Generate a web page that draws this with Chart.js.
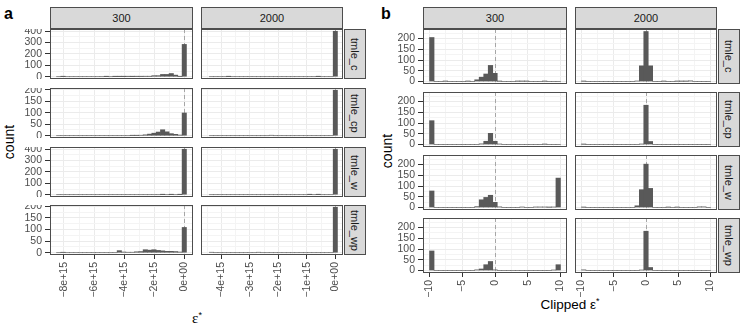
<!DOCTYPE html>
<html>
<head>
<meta charset="utf-8">
<script src="https://cdn.jsdelivr.net/npm/chart.js@4.4.1/dist/chart.umd.min.js"></script>
<style>
  body { margin: 0; background: #fff; }
  #fig { position: relative; width: 747px; height: 327px; overflow: hidden; font-family: "Liberation Sans", Arial, sans-serif; }
  #fig canvas { position: absolute; }
  .strip { position: absolute; box-sizing: border-box; background: #D9D9D9; border: 1px solid #4D4D4D; color: #1A1A1A; font-size: 11px; display: flex; align-items: center; justify-content: center; }
  .strip.v span { writing-mode: vertical-rl; }
  .tag { position: absolute; font-weight: bold; font-size: 16px; line-height: 16px; }
  .ytitle { position: absolute; width: 60px; height: 16px; line-height: 16px; text-align: center; font-size: 14px; transform: rotate(-90deg); }
  .xtitle { position: absolute; width: 160px; text-align: center; font-size: 13.5px; line-height: 16px; }
  .serif { font-family: "Liberation Serif", "DejaVu Serif", serif; font-size: 15px; }
  sup { font-size: 9px; vertical-align: 5px; }
</style>
</head>
<body>
<div id="fig">
  <div class="tag" style="left:4px;top:6px;">a</div>
  <div class="tag" style="left:381px;top:6px;">b</div>
  <div class="ytitle" style="left:-21px;top:134px;">count</div>
  <div class="ytitle" style="left:357px;top:143px;">count</div>
  <div class="xtitle" style="left:117px;top:307px;"><span class="serif">ε</span><sup>*</sup></div>
  <div class="xtitle" style="left:490px;top:293px;">Clipped ε<sup>*</sup></div>
</div>
<script>
// ---- bin centres (x values of the histogram bars) ----
// panel a, n = 300 column (units of 1e15)
const aCenters300 = [-8.352, -8.064, -7.776, -7.488, -7.2, -6.912, -6.624, -6.336, -6.048, -5.76,
  -5.472, -5.184, -4.896, -4.608, -4.32, -4.032, -3.744, -3.456, -3.168, -2.88,
  -2.592, -2.304, -2.016, -1.728, -1.44, -1.152, -0.864, -0.576, -0.288, 0];
// panel a, n = 2000 column (units of 1e15)
const aCenters2000 = [-4.35, -4.2, -4.05, -3.9, -3.75, -3.6, -3.45, -3.3, -3.15, -3.0,
  -2.85, -2.7, -2.55, -2.4, -2.25, -2.1, -1.95, -1.8, -1.65, -1.5,
  -1.35, -1.2, -1.05, -0.9, -0.75, -0.6, -0.45, -0.3, -0.15, 0];
// panel b (clipped epsilon)
const bCenters = [-9.655, -8.966, -8.276, -7.586, -6.897, -6.207, -5.517, -4.828, -4.138, -3.448,
  -2.759, -2.069, -1.379, -0.69, 0, 0.69, 1.379, 2.069, 2.759, 3.448,
  4.138, 4.828, 5.517, 6.207, 6.897, 7.586, 8.276, 8.966, 9.655];

// ---- counts, panel a ----
const aTmleC300   = [0,1,0,0,0,0,0,0,0,0, 0,1,0,1,1,1,2,1,2,2, 3,3,9,9,20,20,28,14,2,283];
const aTmleCp300  = [0,0,0,0,0,0,0,0,0,0, 0,0,0,0,0,0,0,1,1,2, 4,7,11,16,26,17,9,6,3,99];
const aTmleW300   = [0,0,0,0,0,0,0,0,0,0, 0,0,0,0,0,0,0,0,0,0, 0,0,0,0,1,0,1,0,1,398];
const aTmleWp300  = [0,1,0,0,0,0,0,0,0,0, 0,0,0,0,9,3,2,2,4,5, 13,11,13,10,8,6,6,5,3,109];
const aTmleC2000  = [0,0,0,0,1,0,0,0,0,0, 0,0,0,0,0,0,0,0,0,0, 0,0,0,0,0,1,0,0,0,398];
const aTmleCp2000 = [0,0,0,0,0,0,0,0,0,0, 0,0,0,0,2,0,0,0,0,0, 0,0,0,0,0,0,0,0,0,198];
const aTmleW2000  = [0,0,0,0,0,0,0,0,0,0, 0,0,0,0,0,0,0,0,0,0, 0,0,0,1,0,1,0,0,0,398];
const aTmleWp2000 = [2,0,0,0,0,0,0,0,0,0, 0,2,0,0,0,0,0,0,0,0, 0,0,0,0,0,0,0,0,0,196];

// ---- counts, panel b ----
const bTmleC300   = [205,0,0,1,0,0,0,0,1,0, 8,20,35,75,38,1,0,0,0,1, 1,1,0,0,0,1,0,0,0];
const bTmleCp300  = [111,0,0,0,0,0,0,0,0,0, 0,3,15,52,15,2,0,0,0,0, 0,0,0,0,0,1,0,0,0];
const bTmleW300   = [77,0,0,0,0,0,0,0,0,0, 4,36,47,57,24,3,0,0,0,0, 2,0,0,2,2,2,1,2,137];
const bTmleWp300  = [91,0,0,0,0,0,0,0,0,0, 3,7,27,42,3,0,0,0,0,0, 0,0,0,0,0,0,0,2,27];
const bTmleC2000  = [1,0,0,0,0,0,0,0,0,0, 0,0,2,73,233,73,0,0,1,0, 0,1,1,1,3,0,0,0,0];
const bTmleCp2000 = [1,0,0,0,0,0,0,0,0,0, 0,0,0,2,183,14,0,0,0,0, 0,0,0,0,0,0,0,0,0];
const bTmleW2000  = [1,0,0,0,0,0,0,0,0,0, 0,0,8,83,202,89,0,0,0,1, 0,1,0,0,0,0,3,3,0];
const bTmleWp2000 = [3,0,0,0,0,0,0,0,0,0, 0,0,0,2,183,14,0,0,0,0, 0,0,0,0,0,0,0,0,0];

// ---- strip labels and ticks ----
const sampleSizes = ['300', '2000'];
const estimators = ['tmle_c', 'tmle_cp', 'tmle_w', 'tmle_wp'];
const aXTicks300 = [-8, -6, -4, -2, 0];
const aXLabels300 = ['−8e+15', '−6e+15', '−4e+15', '−2e+15', '0e+00'];
const aXMinor300 = [-7, -5, -3, -1];
const aXTicks2000 = [-4, -3, -2, -1, 0];
const aXLabels2000 = ['−4e+15', '−3e+15', '−2e+15', '−1e+15', '0e+00'];
const aXMinor2000 = [-4.5, -3.5, -2.5, -1.5, -0.5];
const bXTicks = [-10, -5, 0, 5, 10];
const bXLabels = ['−10', '−5', '0', '5', '10'];
const bXMinor = [-7.5, -2.5, 2.5, 7.5];
const yTicks400 = [0, 100, 200, 300, 400];
const yMinor400 = [50, 150, 250, 350];
const yTicks200 = [0, 50, 100, 150, 200];
const yMinor200 = [25, 75, 125, 175, 225];

// ---- layout (pixels) ----
const FONT = '"Liberation Sans", Arial, sans-serif';
let fig = document.getElementById('fig');

// dashed reference line at zero
const zeroLine = {
  id: 'zeroLine',
  beforeDatasetsDraw(chart) {
    let ctx = chart.ctx, area = chart.chartArea;
    let x = Math.round(chart.scales.x.getPixelForValue(0)) + 0.5;
    ctx.save();
    ctx.strokeStyle = '#A6A6A6';
    ctx.lineWidth = 1;
    ctx.setLineDash([4, 3]);
    ctx.beginPath();
    ctx.moveTo(x, area.top);
    ctx.lineTo(x, area.bottom);
    ctx.stroke();
    ctx.restore();
  }
};

// panel border like theme_bw
const panelBorder = {
  id: 'panelBorder',
  afterDatasetsDraw(chart) {
    let ctx = chart.ctx, a = chart.chartArea;
    ctx.save();
    ctx.strokeStyle = '#4D4D4D';
    ctx.lineWidth = 1;
    ctx.strokeRect(a.left + 0.5, a.top + 0.5, a.right - a.left - 1, a.bottom - a.top - 1);
    ctx.restore();
  }
};

function tickList(major, minor) {
  let list = major.map(v => ({ value: v, minor: false }));
  minor.forEach(v => list.push({ value: v, minor: true }));
  return list.sort((p, q) => p.value - q.value);
}

function gridColor(c) { return c.tick && c.tick.minor ? '#F4F4F4' : '#EBEBEB'; }
function tickColor(c) { return c.tick && c.tick.minor ? 'rgba(0,0,0,0)' : '#333333'; }

function addStrip(x, y, w, h, text, vertical) {
  let d = document.createElement('div');
  d.className = vertical ? 'strip v' : 'strip';
  d.style.left = x + 'px'; d.style.top = y + 'px';
  d.style.width = w + 'px'; d.style.height = h + 'px';
  d.innerHTML = '<span>' + text + '</span>';
  fig.appendChild(d);
}

function drawPanel(p) {
  let L = p.showY ? 32 : 0;
  let B = p.showX ? p.xRoom : 0;
  let canvas = document.createElement('canvas');
  canvas.width = p.w + L;
  canvas.height = p.h + B;
  canvas.style.left = (p.x - L) + 'px';
  canvas.style.top = p.y + 'px';
  fig.appendChild(canvas);

  let points = p.centers.map((c, i) => ({ x: c, y: p.counts[i] }));
  let yMax = p.yTop;

  new Chart(canvas, {
    type: 'bar',
    data: { datasets: [{ data: points, backgroundColor: '#595959', borderWidth: 0, barPercentage: 1, categoryPercentage: 1 }] },
    options: {
      responsive: false,
      animation: false,
      events: [],
      layout: { padding: 0, autoPadding: false },
      plugins: { legend: { display: false }, tooltip: { enabled: false } },
      scales: {
        x: {
          type: 'linear', min: p.xMin, max: p.xMax, offset: false, bounds: 'data',
          afterBuildTicks: s => { s.ticks = tickList(p.xTicks, p.xMinor); },
          ticks: {
            display: p.showX, autoSkip: false, minRotation: 90, maxRotation: 90, padding: 3,
            color: '#4D4D4D', font: { size: 10.5, family: FONT },
            callback: v => { let i = p.xTicks.indexOf(v); return i < 0 ? '' : p.xLabels[i]; }
          },
          grid: { offset: false, color: gridColor, lineWidth: 1, drawTicks: p.showX, tickLength: 4, tickColor: tickColor, tickWidth: 1 },
          border: { display: false },
          afterFit: s => { s.height = B; s.paddingLeft = 0; s.paddingRight = 0; }
        },
        y: {
          type: 'linear', min: -0.05 * yMax, max: 1.05 * yMax, bounds: 'data',
          afterBuildTicks: s => { s.ticks = tickList(p.yTicks, p.yMinor.filter(v => v < 1.05 * yMax)); },
          ticks: {
            display: p.showY, autoSkip: false, padding: 3,
            color: '#4D4D4D', font: { size: 10.5, family: FONT },
            callback: v => p.yTicks.indexOf(v) < 0 ? '' : String(v)
          },
          grid: { color: gridColor, lineWidth: 1, drawTicks: p.showY, tickLength: 5, tickColor: tickColor, tickWidth: 1 },
          border: { display: false },
          afterFit: s => { s.width = L; s.paddingTop = 0; s.paddingBottom = 0; }
        }
      }
    },
    plugins: [zeroLine, panelBorder]
  });
}

// ---- panel a ----
let aColX = [50, 201], aColW = [143, 142];
let aRowY = [29, 88, 147, 205], aRowH = 50;
let aCounts = [
  [aTmleC300, aTmleC2000], [aTmleCp300, aTmleCp2000],
  [aTmleW300, aTmleW2000], [aTmleWp300, aTmleWp2000]
];
let aYTicks = [yTicks400, yTicks200, yTicks400, yTicks200];
let aYMinor = [yMinor400, yMinor200.slice(0, 4), yMinor400, yMinor200.slice(0, 4)];

// ---- panel b ----
let bColX = [423, 575], bColW = [144, 142];
let bRowY = [29, 92, 155, 218], bRowH = 55;
let bCounts = [
  [bTmleC300, bTmleC2000], [bTmleCp300, bTmleCp2000],
  [bTmleW300, bTmleW2000], [bTmleWp300, bTmleWp2000]
];
let bTop = Math.max(...bCounts.flat(2));

for (let c = 0; c < 2; c++) {
  addStrip(aColX[c], 7, aColW[c], 22, sampleSizes[c], false);
  addStrip(bColX[c], 7, bColW[c], 22, sampleSizes[c], false);
}

for (let r = 0; r < 4; r++) {
  addStrip(344, aRowY[r], 22, aRowH, estimators[r], true);
  addStrip(718, bRowY[r], 22, bRowH, estimators[r], true);
  let aTop = Math.max(...aCounts[r][0], ...aCounts[r][1]);
  for (let c = 0; c < 2; c++) {
    drawPanel({
      x: aColX[c], y: aRowY[r], w: aColW[c], h: aRowH,
      showY: c === 0, showX: r === 3, xRoom: 52,
      centers: c === 0 ? aCenters300 : aCenters2000,
      counts: aCounts[r][c],
      xMin: c === 0 ? -8.93 : -4.72, xMax: c === 0 ? 0.58 : 0.27,
      xTicks: c === 0 ? aXTicks300 : aXTicks2000,
      xLabels: c === 0 ? aXLabels300 : aXLabels2000,
      xMinor: c === 0 ? aXMinor300 : aXMinor2000,
      yTop: aTop, yTicks: aYTicks[r], yMinor: aYMinor[r]
    });
    drawPanel({
      x: bColX[c], y: bRowY[r], w: bColW[c], h: bRowH,
      showY: c === 0, showX: r === 3, xRoom: 28,
      centers: bCenters,
      counts: bCounts[r][c],
      xMin: -11, xMax: 11,
      xTicks: bXTicks, xLabels: bXLabels, xMinor: bXMinor,
      yTop: bTop, yTicks: yTicks200, yMinor: yMinor200
    });
  }
}
</script>
</body>
</html>
